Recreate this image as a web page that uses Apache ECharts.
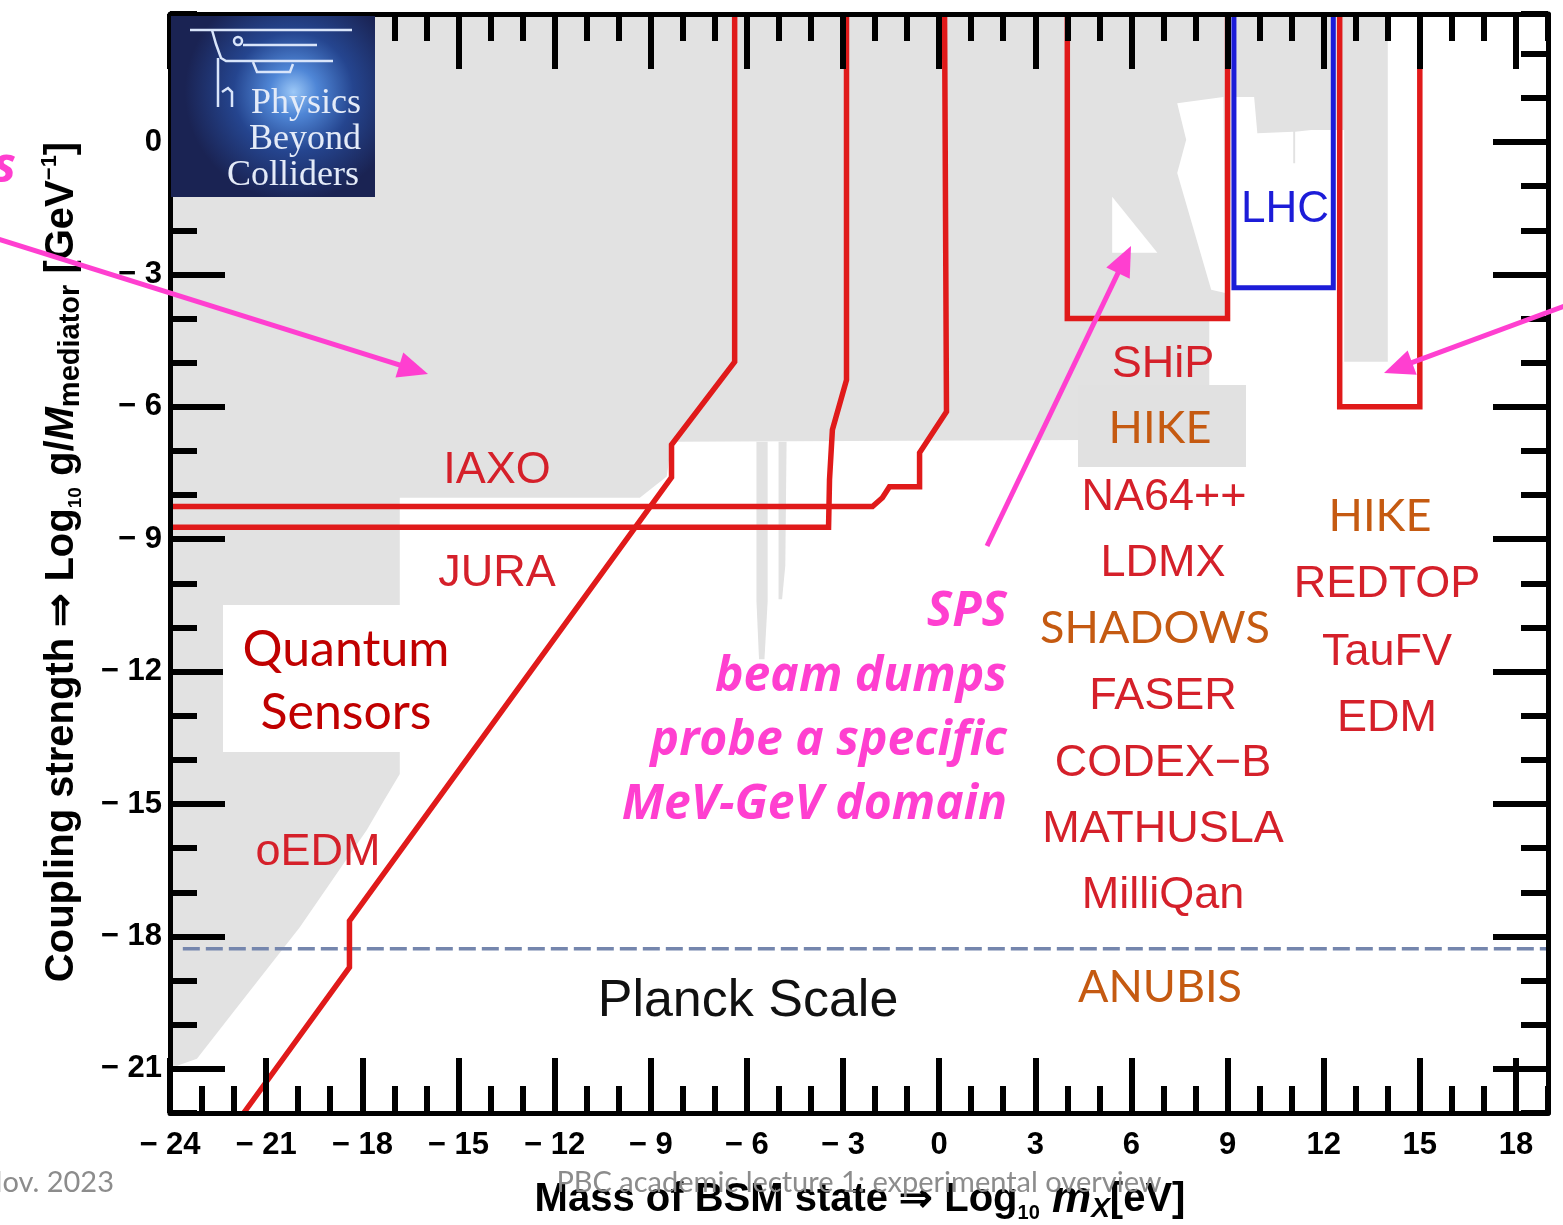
<!DOCTYPE html>
<html>
<head>
<meta charset="utf-8">
<title>Coupling strength vs mass of BSM state</title>
<script src="https://cdn.jsdelivr.net/npm/echarts@6/dist/echarts.min.js"></script>
<style>
  html, body { margin: 0; padding: 0; background: #fff; }
  #chart { width: 1563px; height: 1225px; }
</style>
</head>
<body>
<div id="chart"></div>
<script>
// ---------- axes ----------
const xRange = [-24, 19];
const yRange = [-22, 2.9];
const xMajorTicks = [-24, -21, -18, -15, -12, -9, -6, -3, 0, 3, 6, 9, 12, 15, 18];
const yMajorTicks = [-21, -18, -15, -12, -9, -6, -3, 0];

// ---------- excluded parameter space (grey) ----------
const excludedMain = [
  [-24, 2.9], [14.0, 2.9], [14.0, -4.98], [12.64, -4.98], [12.64, 0.27],
  [11.61, 0.27], [11.11, 0.23], [11.11, -0.48], [11.05, -0.48], [11.05, 0.23],
  [9.93, 0.2], [9.83, 1.02], [9.15, 1.02], [9.05, -3.98], [8.43, -3.98],
  [8.43, -6.74], [-8.35, -6.79], [-8.5, -7.58], [-9.34, -8.06], [-16.83, -8.06],
  [-16.83, -14.32], [-17.3, -14.89], [-17.86, -15.59], [-19.95, -17.79],
  [-22.04, -19.73], [-23.16, -20.77], [-23.78, -20.93], [-24, -20.93]
];
const excludedSpikeA = [[-5.70, -6.79], [-5.35, -6.79], [-5.35, -10.4], [-5.45, -11.72], [-5.62, -11.72], [-5.70, -10.4]];
const excludedSpikeB = [[-5.01, -6.79], [-4.76, -6.79], [-4.80, -9.6], [-4.90, -10.36], [-5.01, -10.36]];
// open windows inside the SHiP region
const openTriangle = [[5.40, -1.24], [5.40, -2.51], [6.81, -2.51]];
const openStrip = [[7.43, 0.88], [8.87, 1.02], [8.93, -3.42], [8.49, -3.35], [7.43, -0.70], [7.71, 0.05]];

// ---------- experiment reach boundaries ----------
const axionLine = [[-6.38, 2.9], [-6.38, -4.98], [-8.35, -6.86], [-8.35, -7.6], [-18.4, -17.65], [-18.4, -18.7], [-21.7, -22]];
const juraLine = [[-2.89, 2.9], [-2.89, -5.39], [-3.33, -6.52], [-3.42, -7.65], [-3.45, -8.73], [-24, -8.73]];
const iaxoLine = [[0.17, 2.9], [0.23, -6.11], [-0.61, -7.04], [-0.61, -7.81], [-1.55, -7.81], [-1.77, -8.06], [-2.08, -8.26], [-24, -8.26]];
const shipBox = [[4, 2.9], [4, -4], [9, -4], [9, 2.9]];
const lhcBox = [[9.2, 2.9], [9.2, -3.3], [12.3, -3.3], [12.3, 2.9]];
const flavourBox = [[12.5, 2.9], [12.5, -6], [15, -6], [15, 2.9]];
const planckLine = [[-23.6, -18.28], [19, -18.28]];

// ---------- styles ----------
const RED = '#e01a1a';
const LABEL_RED = '#d5202a';
const ORANGE = '#c55a11';
const PINK = '#ff3fd0';
const BLUE = '#1c1cd8';
const GREY = '#e2e2e2';
const SANS = '"Liberation Sans", Arial, Helvetica, sans-serif';
const CAL = 'Lato, "Open Sans", sans-serif';
const OPEN = '"Open Sans", Lato, sans-serif';

const minusFmt = v => (v < 0 ? '\u2212 ' + Math.abs(v) : String(v));

function areaSeries(name, points, fill, z) {
  return {
    name, type: 'custom', coordinateSystem: 'cartesian2d', xAxisIndex: 0, yAxisIndex: 0,
    data: points, z, silent: true, clip: true, animation: false,
    encode: { x: 0, y: 1 },
    renderItem: (params, api) => params.dataIndex === 0 ? {
      type: 'polygon', shape: { points: points.map(p => api.coord(p)) }, style: { fill: fill }
    } : null
  };
}
function boundarySeries(name, points, color, width, z, dash) {
  return {
    name, type: 'line', data: points, xAxisIndex: 0, yAxisIndex: 0,
    symbol: 'none', showSymbol: false, silent: true, animation: false, clip: true, z,
    lineStyle: { color, width, type: dash || 'solid', cap: 'butt', join: 'miter' }
  };
}

function xAxisDef(position, major) {
  return {
    type: 'value', position, min: xRange[0], max: xRange[1], z: 10,
    interval: major ? undefined : 1,
    axisLine: { show: major, onZero: false, lineStyle: { color: '#000', width: 5 } },
    axisTick: major
      ? { show: true, inside: true, length: 55, customValues: xMajorTicks, lineStyle: { color: '#000', width: 6 } }
      : { show: true, inside: true, length: 27, lineStyle: { color: '#000', width: 6 } },
    axisLabel: (major && position === 'bottom')
      ? { show: true, customValues: xMajorTicks, formatter: minusFmt, margin: 17, color: '#000',
          fontSize: 31, fontWeight: 'bold', fontFamily: SANS }
      : { show: false },
    splitLine: { show: false }, minorTick: { show: false }
  };
}
function yAxisDef(position, major) {
  return {
    type: 'value', position, min: yRange[0], max: yRange[1], z: 10,
    interval: major ? undefined : 1,
    axisLine: { show: major, onZero: false, lineStyle: { color: '#000', width: 5 } },
    axisTick: major
      ? { show: true, inside: true, length: 55, customValues: yMajorTicks, lineStyle: { color: '#000', width: 6 } }
      : { show: true, inside: true, length: 27, lineStyle: { color: '#000', width: 6 } },
    axisLabel: (major && position === 'left')
      ? { show: true, customValues: yMajorTicks, formatter: minusFmt, margin: 8, color: '#000',
          fontSize: 31, fontWeight: 'bold', fontFamily: SANS }
      : { show: false },
    splitLine: { show: false }, minorTick: { show: false }
  };
}

// ---------- annotations ----------
function txt(text, x, y, fill, font, align) {
  return {
    type: 'text', x, y, z: 130, silent: true,
    style: { text, fill, font, align: align || 'center', textAlign: align || 'center',
             verticalAlign: 'middle', textVerticalAlign: 'middle' }
  };
}
function arrow(x1, y1, x2, y2) {
  const a = Math.atan2(y2 - y1, x2 - x1);
  const L = 30, W = 13;
  const bx = x2 - L * Math.cos(a), by = y2 - L * Math.sin(a);
  const px = -Math.sin(a) * W, py = Math.cos(a) * W;
  return [
    { type: 'line', z: 140, silent: true,
      shape: { x1, y1, x2: bx + 4 * Math.cos(a), y2: by + 4 * Math.sin(a) },
      style: { stroke: PINK, lineWidth: 5 } },
    { type: 'polygon', z: 140, silent: true,
      shape: { points: [[x2, y2], [bx + px, by + py], [bx - px, by - py]] },
      style: { fill: PINK } }
  ];
}

const redFont = '45px ' + SANS;
const orangeFont = '45px ' + CAL;
const pinkFont = 'italic bold 48px ' + OPEN;

const logoStroke = { stroke: '#d9e5fa', lineWidth: 2.5, fill: null };
const logo = [
  { type: 'rect', z: 100, silent: true, shape: { x: 171, y: 16, width: 204, height: 181 },
    style: { fill: new echarts.graphic.RadialGradient(0.6, 0.42, 0.6, [
      { offset: 0, color: '#9cc8f7' }, { offset: 0.22, color: '#4f86d6' },
      { offset: 0.55, color: '#25458f' }, { offset: 1, color: '#1a2353' }]) } },
  { type: 'polyline', z: 101, silent: true, shape: { points: [[190, 30], [352, 30]] }, style: logoStroke },
  { type: 'polyline', z: 101, silent: true, shape: { points: [[212, 30], [216, 44], [221, 58], [226, 61], [333, 61]] }, style: logoStroke },
  { type: 'polyline', z: 101, silent: true, shape: { points: [[218, 58], [218, 107]] }, style: logoStroke },
  { type: 'polyline', z: 101, silent: true, shape: { points: [[243, 45], [317, 45]] }, style: logoStroke },
  { type: 'circle', z: 101, silent: true, shape: { cx: 238, cy: 41, r: 4 }, style: logoStroke },
  { type: 'polyline', z: 101, silent: true, shape: { points: [[253, 62], [257, 72], [290, 72], [293, 64]] }, style: logoStroke },
  { type: 'polyline', z: 101, silent: true, shape: { points: [[222, 92], [228, 88], [232, 92], [232, 107]] }, style: logoStroke },
  txt('Physics', 306, 104, '#e4ebf8', '36px "Liberation Serif", serif'),
  txt('Beyond', 305, 140, '#e4ebf8', '36px "Liberation Serif", serif'),
  txt('Colliders', 293, 176, '#e4ebf8', '36px "Liberation Serif", serif')
];
logo.slice(-3).forEach(e => { e.z = 102; });

const graphics = [].concat(
  logo,
  [
    // label backgrounds
    { type: 'rect', z: 120, silent: true, shape: { x: 223, y: 605, width: 227, height: 147 }, style: { fill: '#ffffff' } },
    { type: 'rect', z: 120, silent: true, shape: { x: 1078, y: 385, width: 168, height: 82 }, style: { fill: '#e1e1e1' } },

    txt('IAXO', 497, 471, LABEL_RED, redFont),
    txt('JURA', 497, 574, LABEL_RED, redFont),
    txt('oEDM', 318, 853, LABEL_RED, redFont),
    txt('Quantum', 346, 650, '#c00000', '50px ' + CAL),
    txt('Sensors', 346, 713, '#c00000', '50px ' + CAL),
    txt('LHC', 1285, 210, BLUE, '44px ' + SANS),
    txt('Planck Scale', 748, 1002, '#111111', '52px ' + SANS),

    txt('SHiP', 1163, 365, LABEL_RED, redFont),
    txt('HIKE', 1160, 428, ORANGE, orangeFont),
    txt('NA64++', 1164, 498, LABEL_RED, redFont),
    txt('LDMX', 1163, 564, LABEL_RED, redFont),
    txt('SHADOWS', 1155, 628, ORANGE, orangeFont),
    txt('FASER', 1163, 697, LABEL_RED, redFont),
    txt('CODEX\u2212B', 1163, 764, LABEL_RED, redFont),
    txt('MATHUSLA', 1163, 830, LABEL_RED, redFont),
    txt('MilliQan', 1163, 896, LABEL_RED, redFont),
    txt('ANUBIS', 1160, 987, ORANGE, orangeFont),

    txt('HIKE', 1380, 516, ORANGE, orangeFont),
    txt('REDTOP', 1387, 585, LABEL_RED, redFont),
    txt('TauFV', 1387, 653, LABEL_RED, redFont),
    txt('EDM', 1387, 719, LABEL_RED, redFont),

    txt('SPS', 1007, 612, PINK, pinkFont, 'right'),
    txt('beam dumps', 1007, 677, PINK, pinkFont, 'right'),
    txt('probe a specific', 1007, 741, PINK, pinkFont, 'right'),
    txt('MeV-GeV domain', 1007, 805, PINK, pinkFont, 'right'),
    txt('s', 16, 168, PINK, pinkFont, 'right'),

    // axis titles
    { type: 'text', z: 130, silent: true, x: 62, y: 562, rotation: Math.PI / 2,
      style: {
        text: '{n|Coupling strength \u21d2 Log}{sb|10}{n| g/}{it|M}{sb2|mediator}{n| [GeV}{sp|\u22121}{n|]}',
        align: 'center', verticalAlign: 'middle', textAlign: 'center', textVerticalAlign: 'middle',
        fill: '#000',
        rich: {
          n: { fontSize: 40, fontWeight: 'bold', fontFamily: SANS, lineHeight: 46, verticalAlign: 'middle', fill: '#000' },
          sb: { fontSize: 19, fontWeight: 'bold', fontFamily: SANS, verticalAlign: 'bottom', fill: '#000' },
          it: { fontSize: 40, fontWeight: 'bold', fontStyle: 'italic', fontFamily: SANS, verticalAlign: 'middle', fill: '#000' },
          sb2: { fontSize: 29, fontWeight: 'bold', fontFamily: SANS, verticalAlign: 'bottom', fill: '#000' },
          sp: { fontSize: 22, fontWeight: 'bold', fontFamily: SANS, verticalAlign: 'top', fill: '#000' }
        }
      } },
    { type: 'text', z: 130, silent: true, x: 860, y: 1200,
      style: {
        text: '{n|Mass of BSM state \u21d2 Log}{sb|10}{it| m}{si|X}{n|[eV]}',
        align: 'center', verticalAlign: 'middle', textAlign: 'center', textVerticalAlign: 'middle',
        fill: '#000',
        rich: {
          n: { fontSize: 40, fontWeight: 'bold', fontFamily: SANS, lineHeight: 46, verticalAlign: 'middle', fill: '#000' },
          sb: { fontSize: 20, fontWeight: 'bold', fontFamily: SANS, verticalAlign: 'bottom', fill: '#000' },
          it: { fontSize: 44, fontStyle: 'italic', fontWeight: 'bold', fontFamily: SANS, verticalAlign: 'middle', fill: '#000' },
          si: { fontSize: 28, fontStyle: 'italic', fontWeight: 'bold', fontFamily: SANS, verticalAlign: 'bottom', fill: '#000' }
        }
      } },

    // footer
    txt('PBC academic lecture 1: experimental overview', 859, 1183, '#8c8c8c', '29px ' + CAL),
    txt('Nov. 2023', 114, 1183, '#8c8c8c', '29px ' + CAL, 'right')
  ],
  arrow(-5, 238, 428, 374),
  arrow(987, 546, 1131, 246),
  arrow(1570, 304, 1384, 373)
);

const chart = echarts.init(document.getElementById('chart'), null, { renderer: 'canvas' });
chart.setOption({
  backgroundColor: '#ffffff',
  animation: false,
  grid: { left: 170, right: 15, top: 14, bottom: 112, containLabel: false, outerBoundsMode: 'none' },
  xAxis: [xAxisDef('bottom', true), xAxisDef('bottom', false), xAxisDef('top', true), xAxisDef('top', false)],
  yAxis: [yAxisDef('left', true), yAxisDef('left', false), yAxisDef('right', true), yAxisDef('right', false)],
  series: [
    areaSeries('excluded', excludedMain, GREY, 1),
    areaSeries('excluded spike A', excludedSpikeA, GREY, 1),
    areaSeries('excluded spike B', excludedSpikeB, GREY, 1),
    areaSeries('open triangle', openTriangle, '#ffffff', 2),
    areaSeries('open strip', openStrip, '#ffffff', 2),
    boundarySeries('Planck scale', planckLine, '#7586ad', 3.5, 3, [17, 6]),
    boundarySeries('axion', axionLine, RED, 5.5, 5),
    boundarySeries('JURA', juraLine, RED, 5.5, 5),
    boundarySeries('IAXO', iaxoLine, RED, 5.5, 5),
    boundarySeries('SHiP', shipBox, RED, 5.5, 5),
    boundarySeries('LHC', lhcBox, BLUE, 5, 5),
    boundarySeries('flavour', flavourBox, RED, 5.5, 5)
  ],
  graphic: { elements: graphics }
});
</script>
</body>
</html>
